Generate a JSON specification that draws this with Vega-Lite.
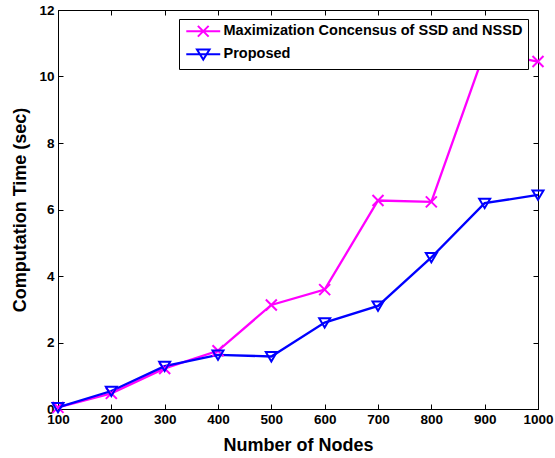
{
  "$schema": "https://vega.github.io/schema/vega-lite/v6.json",
  "width": 480,
  "height": 399,
  "autosize": {"type": "none"},
  "padding": {"left": 58, "top": 10, "right": 17, "bottom": 49},
  "background": "white",
  "config": {
    "font": "Liberation Sans",
    "view": {"stroke": "black", "strokeWidth": 1},
    "axis": {
      "grid": false,
      "domainColor": "black",
      "tickColor": "black",
      "labelColor": "black",
      "titleColor": "black",
      "labelFont": "Liberation Sans",
      "titleFont": "Liberation Sans",
      "labelFontSize": 13.5,
      "labelFontWeight": "bold",
      "titleFontSize": 18,
      "titleFontWeight": "bold",
      "tickSize": -5,
      "labelFlush": false,
      "labelOverlap": false
    }
  },
  "data": {
    "values": [
      {"nodes": 100, "time": 0.05, "method": "Maximization Concensus of SSD and NSSD"},
      {"nodes": 200, "time": 0.47, "method": "Maximization Concensus of SSD and NSSD"},
      {"nodes": 300, "time": 1.22, "method": "Maximization Concensus of SSD and NSSD"},
      {"nodes": 400, "time": 1.75, "method": "Maximization Concensus of SSD and NSSD"},
      {"nodes": 500, "time": 3.13, "method": "Maximization Concensus of SSD and NSSD"},
      {"nodes": 600, "time": 3.59, "method": "Maximization Concensus of SSD and NSSD"},
      {"nodes": 700, "time": 6.27, "method": "Maximization Concensus of SSD and NSSD"},
      {"nodes": 800, "time": 6.23, "method": "Maximization Concensus of SSD and NSSD"},
      {"nodes": 900, "time": 10.75, "method": "Maximization Concensus of SSD and NSSD"},
      {"nodes": 1000, "time": 10.45, "method": "Maximization Concensus of SSD and NSSD"},
      {"nodes": 100, "time": 0.05, "method": "Proposed"},
      {"nodes": 200, "time": 0.54, "method": "Proposed"},
      {"nodes": 300, "time": 1.29, "method": "Proposed"},
      {"nodes": 400, "time": 1.63, "method": "Proposed"},
      {"nodes": 500, "time": 1.58, "method": "Proposed"},
      {"nodes": 600, "time": 2.6, "method": "Proposed"},
      {"nodes": 700, "time": 3.1, "method": "Proposed"},
      {"nodes": 800, "time": 4.56, "method": "Proposed"},
      {"nodes": 900, "time": 6.19, "method": "Proposed"},
      {"nodes": 1000, "time": 6.44, "method": "Proposed"}
    ]
  },
  "layer": [
    {
      "mark": {"type": "line", "strokeWidth": 2.3},
      "encoding": {
        "x": {
          "field": "nodes", "type": "quantitative",
          "scale": {"domain": [100, 1000], "nice": false, "zero": false},
          "axis": {"orient": "bottom", "title": "Number of Nodes", "format": "d", "values": [100, 200, 300, 400, 500, 600, 700, 800, 900, 1000], "labelPadding": 8, "titlePadding": 11}
        },
        "y": {
          "field": "time", "type": "quantitative",
          "scale": {"domain": [0, 12], "nice": false},
          "axis": {"orient": "left", "title": "Computation Time (sec)", "values": [0, 2, 4, 6, 8, 10, 12], "labelPadding": 9, "titlePadding": 9}
        },
        "color": {
          "field": "method", "type": "nominal",
          "scale": {"domain": ["Maximization Concensus of SSD and NSSD", "Proposed"], "range": ["#ff00ff", "#0000ff"]},
          "legend": {
            "title": null,
            "orient": "none",
            "legendX": 121,
            "legendY": 9,
            "fillColor": "white",
            "strokeColor": "black",
            "padding": 5,
            "symbolSize": 144,
            "symbolStrokeWidth": 2,
            "symbolOffset": 12,
            "labelOffset": 13,
            "labelFont": "Liberation Sans",
            "labelFontSize": 14.5,
            "labelFontWeight": "bold",
            "labelColor": "black",
            "labelLimit": 400,
            "rowPadding": 4,
            "encode": {
              "symbols": {
                "update": {
                  "shape": {"signal": "datum.value === 'Proposed' ? 'M-2.83,0L2.83,0M-1.05,-0.8L1.05,-0.8L0,0.9Z' : 'M-2.83,0L2.83,0M-0.9,-0.9L0.9,0.9M0.9,-0.9L-0.9,0.9'"},
                  "fill": {"value": "transparent"}
                }
              }
            }
          }
        }
      }
    },
    {
      "mark": {"type": "point", "filled": false, "strokeWidth": 2, "opacity": 1},
      "encoding": {
        "x": {
          "field": "nodes", "type": "quantitative",
          "scale": {"domain": [100, 1000], "nice": false, "zero": false},
          "axis": {"orient": "top", "title": null, "labels": false, "domain": false, "values": [100, 200, 300, 400, 500, 600, 700, 800, 900, 1000]}
        },
        "y": {
          "field": "time", "type": "quantitative",
          "scale": {"domain": [0, 12], "nice": false},
          "axis": {"orient": "right", "title": null, "labels": false, "domain": false, "values": [0, 2, 4, 6, 8, 10, 12]}
        },
        "color": {
          "field": "method", "type": "nominal",
          "scale": {"domain": ["Maximization Concensus of SSD and NSSD", "Proposed"], "range": ["#ff00ff", "#0000ff"]},
          "legend": null
        },
        "shape": {
          "field": "method", "type": "nominal",
          "scale": {"domain": ["Maximization Concensus of SSD and NSSD", "Proposed"], "range": ["M-1,-1L1,1M1,-1L-1,1", "M-1,-0.8L1,-0.8L0,0.9Z"]},
          "legend": null
        },
        "size": {"value": 121}
      }
    }
  ],
  "resolve": {"axis": {"x": "independent", "y": "independent"}, "legend": {"color": "independent"}}
}
